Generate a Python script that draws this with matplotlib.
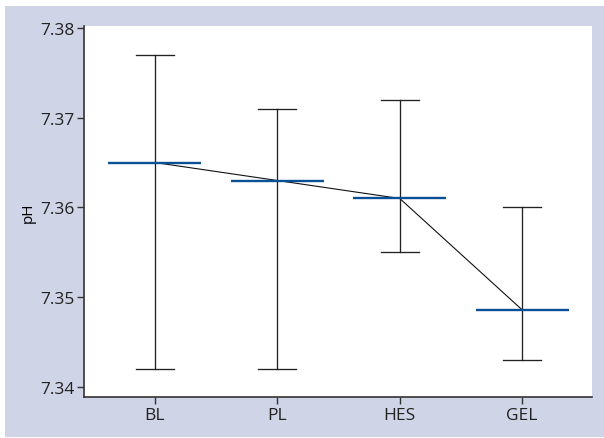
import matplotlib.pyplot as plt
from matplotlib.patches import Rectangle

# pH per time point: mean with min / max whiskers
groups = ['BL', 'PL', 'HES', 'GEL']
ph_mean = [7.365, 7.363, 7.361, 7.3486]
ph_low = [7.342, 7.342, 7.355, 7.343]
ph_high = [7.377, 7.371, 7.372, 7.360]

plt.rcParams['font.family'] = ['Open Sans', 'DejaVu Sans']

fig = plt.figure(figsize=(6.04, 4.39), dpi=100)
fig.patch.set_facecolor('white')
fig.patches.append(Rectangle((0.0083, 0.0023), 0.9917, 0.9817, transform=fig.transFigure,
                             facecolor='#cfd4e6', edgecolor='none', zorder=-1))

ax = fig.add_axes([0.139, 0.0934, 0.841, 0.8451])
ax.set_zorder(1)
ax.set_facecolor('white')

x = list(range(len(groups)))

# whiskers with caps
for i in x:
    ax.plot([i, i], [ph_low[i], ph_high[i]], color='#222222', lw=0.95, zorder=2)
    for v in (ph_low[i], ph_high[i]):
        ax.plot([i - 0.155, i + 0.155], [v, v], color='#222222', lw=0.95, zorder=2)

# line joining the means
ax.plot(x, ph_mean, color='#111111', lw=0.8, zorder=3)

# mean markers
for i in x:
    ax.plot([i - 0.38, i + 0.38], [ph_mean[i], ph_mean[i]], color='#0b4f96', lw=1.7,
            solid_capstyle='butt', zorder=4)

ax.set_xlim(-0.58, 3.57)
ax.set_ylim(7.3389, 7.3802)
ax.set_xticks(x)
ax.set_xticklabels(groups)
ax.set_yticks([7.34, 7.35, 7.36, 7.37, 7.38])
ax.set_yticklabels(['7.34', '7.35', '7.36', '7.37', '7.38'])
ax.set_ylabel('pH', fontsize=11, labelpad=3)

for side in ('top', 'right'):
    ax.spines[side].set_visible(False)
for side in ('left', 'bottom'):
    ax.spines[side].set_color('#333333')
    ax.spines[side].set_linewidth(1.2)

ax.tick_params(axis='both', length=5, width=1.0, color='#333333', labelsize=12.5,
               labelcolor='#222222', pad=2)

fig.savefig('out.png', dpi=100, facecolor=fig.get_facecolor())
